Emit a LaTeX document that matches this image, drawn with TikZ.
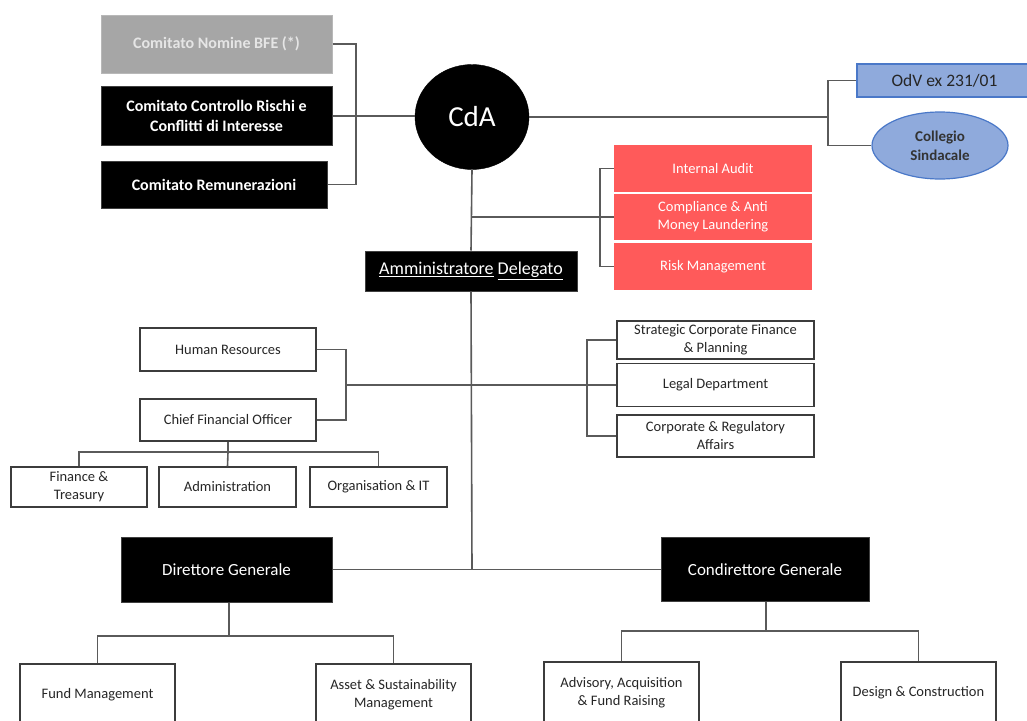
\documentclass[tikz,border=0pt]{standalone}
\usepackage{fontspec}
\setmainfont{Carlito}
\usetikzlibrary{shapes.geometric}
\definecolor{lin}{HTML}{5A5A5A}
\definecolor{boxline}{HTML}{3C3C3C}
\definecolor{redbox}{HTML}{FF5A5A}
\definecolor{bluefill}{HTML}{8FAADC}
\definecolor{blueline}{HTML}{4A78C8}
\definecolor{greybox}{HTML}{A6A6A6}
\newcommand\smallf{\fontsize{14.5}{18}\selectfont}
\newcommand\comf{\fontsize{16}{20}\selectfont\bfseries}
\newcommand\medf{\fontsize{17}{20}\selectfont}
\begin{document}
\begin{tikzpicture}[x=1pt,y=-1pt,
  wbox/.style={draw=boxline, line width=1.4pt, fill=white, inner sep=0pt, align=center, font=\smallf, text=black!85},
  bbox/.style={draw=black!75, line width=1pt, fill=black, text=white, inner sep=0pt, align=center},
  rbox/.style={fill=redbox, draw=none, text=white, inner sep=0pt, align=center, font=\smallf, minimum width=198, minimum height=46},
  conn/.style={draw=lin, line width=1.6pt}]
\useasboundingbox (0,0) rectangle (1027,720);
\fill[white] (0,0) rectangle (1027,720);
\begin{scope}
\clip (0,0) rectangle (1027,720);
% committees
\node[bbox, fill=greybox, draw=greybox!80, text=white!90!black, font=\comf, minimum width=231, minimum height=58] (nom) at (216.5,44) {Comitato Nomine BFE (*)};
\node[bbox, font=\comf, minimum width=231, minimum height=59] (ctrl) at (216.5,116) {Comitato Controllo Rischi e\\Conflitti di Interesse};
\node[bbox, font=\comf, minimum width=226, minimum height=47] (rem) at (214,184.5) {Comitato Remunerazioni};
% CdA
\node[ellipse, fill=black, draw=black, text=white, inner sep=0pt, minimum width=114, minimum height=105, font=\fontsize{29}{32}\selectfont] (cda) at (472,117) {CdA};
% OdV and Collegio
\node[draw=blueline, line width=1.2pt, fill=bluefill, inner sep=0pt, minimum width=175, minimum height=33, font=\fontsize{17.5}{20}\selectfont, text=black!85] (odv) at (944.5,80.5) {OdV ex 231/01};
\node[ellipse, draw=blueline, line width=1.2pt, fill=bluefill, inner sep=0pt, minimum width=136, minimum height=67, align=center, font=\fontsize{15}{19}\selectfont\bfseries, text=black!80] (col) at (940,145.5) {Collegio\\Sindacale};
% red boxes
\node[rbox, minimum height=47] (ia) at (713,168.5) {Internal Audit};
\node[rbox] (comp) at (713,217) {Compliance \& Anti\\Money Laundering};
\node[rbox, minimum height=47] (rm) at (713,266.5) {Risk Management};
% AD
\node[bbox, font=\fontsize{18}{20}\selectfont, minimum width=212, minimum height=40] (ad) at (471,271) {\underline{Amministratore} \underline{Delegato}};
% staff
\node[wbox, minimum width=176, minimum height=43] (hr) at (228,349.5) {Human Resources};
\node[wbox, minimum width=176, minimum height=42] (cfo) at (228,420) {Chief Financial Officer};
\node[wbox, minimum width=136, minimum height=40] (fin) at (79,487) {Finance \&\\Treasury};
\node[wbox, minimum width=137, minimum height=40] (adm) at (227.5,487) {Administration};
\node[wbox, minimum width=137, minimum height=40] (org) at (378.5,487) {Organisation \& IT};
\node[wbox, minimum width=197, minimum height=38] (scf) at (715.5,340) {Strategic Corporate Finance\\\& Planning};
\node[wbox, minimum width=197, minimum height=43] (leg) at (715.5,385) {Legal Department};
\node[wbox, minimum width=197, minimum height=42] (cra) at (715.5,436) {Corporate \& Regulatory\\Affairs};
% directors
\node[bbox, font=\medf, minimum width=211, minimum height=65] (dg) at (226.5,569.5) {Direttore Generale};
\node[bbox, font=\medf, minimum width=208, minimum height=64] (cg) at (765,569.5) {Condirettore Generale};
\node[wbox, minimum width=155, minimum height=62] (fm) at (97.5,695) {Fund Management};
\node[wbox, minimum width=155, minimum height=62] (asm) at (393.5,695) {Asset \& Sustainability\\Management};
\node[wbox, minimum width=155, minimum height=62] (adv) at (621.5,693) {Advisory, Acquisition\\\& Fund Raising};
\node[wbox, minimum width=155, minimum height=62] (dc) at (918.5,693) {Design \& Construction};
% connectors
\coordinate (cb) at (356,116);
\draw[conn] (nom.east) -| (cb) |- (rem.east);
\draw[conn] (ctrl.east) -- (ctrl.east -| cda.west);
\coordinate (ob) at (828,117);
\draw[conn] (cda.east) -- (ob);
\draw[conn] (odv.west) -| (ob) |- (col.west);
\draw[conn] (cda.south) -- (ad.north);
\coordinate (rj) at (472,217);
\draw[conn] (rj) -- (comp.west);
\draw[conn] (ia.west) -| (600,217) |- (rm.west);
\coordinate (mid) at (472,569.5);
\draw[conn] (ad.south) -- (mid);
\draw[conn] (dg.east) -- (cg.west);
\coordinate (hb) at (346,385);
\draw[conn] (hr.east) -| (hb) |- (cfo.east);
\draw[conn] (hb) -- (leg.west);
\draw[conn] (scf.west) -| (587,385) |- (cra.west);
\coordinate (cfj) at (228,452);
\draw[conn] (cfo.south) -- (cfj);
\draw[conn] (fin.north) |- (cfj) -| (org.north);
\draw[conn] (cfj) -- (adm.north);
\coordinate (dgj) at (229,636);
\draw[conn] (dg.south -| dgj) -- (dgj);
\draw[conn] (fm.north) |- (dgj) -| (asm.north);
\coordinate (cgj) at (766,631);
\draw[conn] (cg.south -| cgj) -- (cgj);
\draw[conn] (adv.north) |- (cgj) -| (dc.north);
\end{scope}
\end{tikzpicture}
\end{document}
